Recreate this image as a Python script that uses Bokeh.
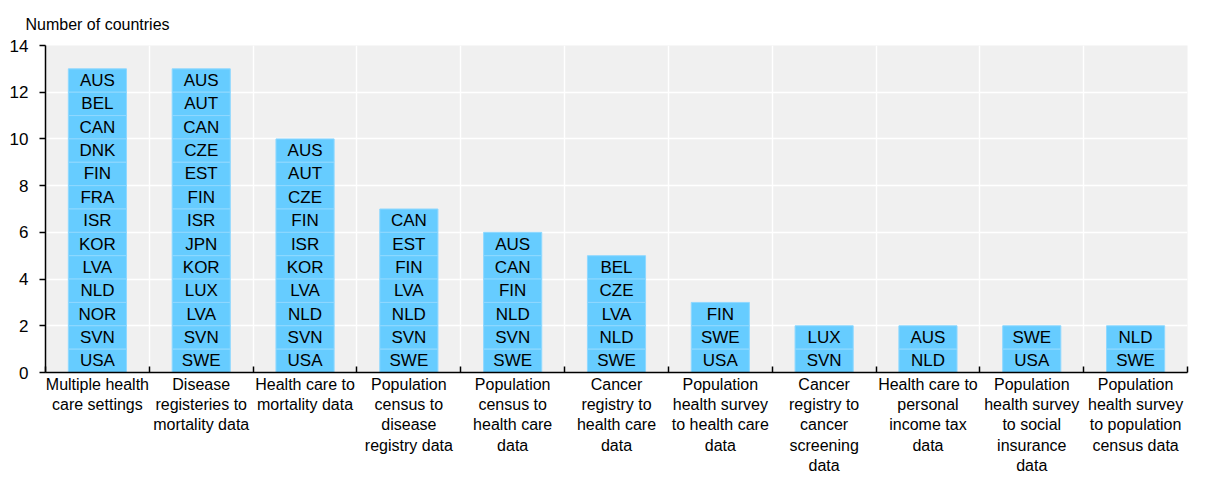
from bokeh.plotting import figure
from bokeh.models import ColumnDataSource, FixedTicker, Range1d
from bokeh.core.properties import value
from bokeh.embed import file_html
from bokeh.resources import INLINE

categories = [
    "Multiple health\ncare settings",
    "Disease\nregisteries to\nmortality data",
    "Health care to\nmortality data",
    "Population\ncensus to\ndisease\nregistry data",
    "Population\ncensus to\nhealth care\ndata",
    "Cancer\nregistry to\nhealth care\ndata",
    "Population\nhealth survey\nto health care\ndata",
    "Cancer\nregistry to\ncancer\nscreening\ndata",
    "Health care to\npersonal\nincome tax\ndata",
    "Population\nhealth survey\nto social\ninsurance\ndata",
    "Population\nhealth survey\nto population\ncensus data",
]

# countries listed top to bottom in each bar
multiple_health = ["AUS", "BEL", "CAN", "DNK", "FIN", "FRA", "ISR", "KOR", "LVA", "NLD", "NOR", "SVN", "USA"]
disease_mortality = ["AUS", "AUT", "CAN", "CZE", "EST", "FIN", "ISR", "JPN", "KOR", "LUX", "LVA", "SVN", "SWE"]
health_mortality = ["AUS", "AUT", "CZE", "FIN", "ISR", "KOR", "LVA", "NLD", "SVN", "USA"]
census_disease = ["CAN", "EST", "FIN", "LVA", "NLD", "SVN", "SWE"]
census_health = ["AUS", "CAN", "FIN", "NLD", "SVN", "SWE"]
cancer_health = ["BEL", "CZE", "LVA", "NLD", "SWE"]
survey_health = ["FIN", "SWE", "USA"]
cancer_screening = ["LUX", "SVN"]
health_tax = ["AUS", "NLD"]
survey_social = ["SWE", "USA"]
survey_census = ["NLD", "SWE"]

countries = [multiple_health, disease_mortality, health_mortality, census_disease,
             census_health, cancer_health, survey_health, cancer_screening,
             health_tax, survey_social, survey_census]

y_ticks = [0, 2, 4, 6, 8, 10, 12, 14]

FONT = "Liberation Sans"

xs, bottoms, tops, mids, labels = [], [], [], [], []
for i, lst in enumerate(countries):
    n = len(lst)
    for k, code in enumerate(lst):
        pos = n - 1 - k  # bottom-most is last
        xs.append(i + 0.5)
        bottoms.append(pos)
        tops.append(pos + 1)
        mids.append(pos + 0.5)
        labels.append(code)

src = ColumnDataSource(dict(x=xs, bottom=bottoms, top=tops, mid=mids, label=labels))

p = figure(width=1192, height=477, output_backend="svg", toolbar_location=None,
           x_range=Range1d(0, len(categories)), y_range=Range1d(0, 14),
           min_border_left=45, min_border_right=5, min_border_top=44, min_border_bottom=100,
           title="Number of countries")
p.outline_line_color = None
p.background_fill_color = "#F0F0F0"
p.border_fill_color = "white"

p.title.text_font = FONT
p.title.text_font_size = "16px"
p.title.text_font_style = "normal"
p.title.text_color = "black"
p.title.offset = -20
p.title.standoff = 26

p.vbar(x="x", bottom="bottom", top="top", width=0.56, source=src,
       fill_color="#66CCFF", line_color="#8FD8FF", line_width=1)
p.text(x="x", y="mid", text="label", source=src, text_align="center",
       text_baseline="middle", text_font=value(FONT), text_font_size="17px",
       text_color="black")

centers = [i + 0.5 for i in range(len(categories))]
bounds = list(range(len(categories) + 1))

xa = p.xaxis[0]
xa.ticker = FixedTicker(ticks=centers, minor_ticks=bounds)
xa.major_label_overrides = {c: lab for c, lab in zip(centers, categories)}
xa.major_tick_line_color = None
xa.major_tick_in = 0
xa.major_tick_out = 0
xa.minor_tick_in = 6
xa.minor_tick_out = 0
xa.minor_tick_line_color = "black"
xa.minor_tick_line_width = 1.5
xa.axis_line_color = "black"
xa.axis_line_width = 1.5
xa.major_label_text_font = FONT
xa.major_label_text_font_size = "16px"
xa.major_label_text_color = "black"
xa.major_label_standoff = 3

ya = p.yaxis[0]
ya.ticker = FixedTicker(ticks=y_ticks)
ya.major_tick_in = 0
ya.major_tick_out = 6
ya.major_tick_line_width = 1.5
ya.minor_tick_line_color = None
ya.axis_line_color = "black"
ya.axis_line_width = 1.5
ya.major_label_text_font = FONT
ya.major_label_text_font_size = "17px"
ya.major_label_text_color = "black"
ya.major_label_standoff = 11

p.xgrid.ticker = FixedTicker(ticks=bounds[1:-1])
p.xgrid.grid_line_color = "white"
p.xgrid.grid_line_width = 1.5
p.ygrid.ticker = FixedTicker(ticks=y_ticks)
p.ygrid.grid_line_color = "white"
p.ygrid.grid_line_width = 1.5

open("out.html", "w").write(file_html(p, INLINE))
